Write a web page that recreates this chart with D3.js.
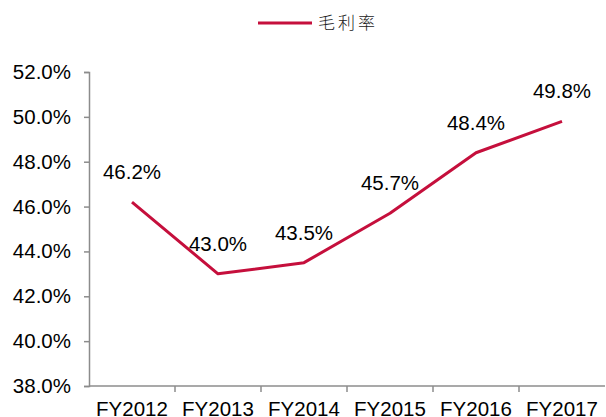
<!DOCTYPE html>
<html>
<head>
<meta charset="utf-8">
<script src="https://cdn.jsdelivr.net/npm/d3@7"></script>
<style>
  html, body { margin: 0; padding: 0; background: #fff; }
  svg { display: block; }
</style>
</head>
<body>
<svg id="chart" width="606" height="417"></svg>
<script>
// Gross margin by fiscal year
const years = ["FY2012", "FY2013", "FY2014", "FY2015", "FY2016", "FY2017"];
const margin = [46.2, 43.0, 43.5, 45.7, 48.4, 49.8];
const yTicks = [38, 40, 42, 44, 46, 48, 50, 52];
const seriesName = "毛利率";

const lineColor = "#C50F3C";
const axisColor = "#8c8c8c";
const font = "'Liberation Sans', Arial, sans-serif";
const fontSize = 20.5;

const svg = d3.select("#chart");
const plot = { left: 89, right: 605, top: 72, bottom: 386 };

const x = d3.scaleBand().domain(years).range([plot.left, plot.right]).padding(0);
const y = d3.scaleLinear().domain([38, 52]).range([plot.bottom, plot.top]);

// Y axis
const yAxis = d3.axisLeft(y).tickValues(yTicks).tickSize(5).tickPadding(13)
  .tickFormat(d => d.toFixed(1) + "%");
const gy = svg.append("g").attr("transform", `translate(${plot.left},0)`).call(yAxis);
gy.select(".domain").attr("stroke", axisColor).attr("stroke-width", 1.5);
gy.selectAll(".tick line").attr("stroke", axisColor).attr("stroke-width", 1.5);
gy.selectAll(".tick text").attr("font-family", font).attr("font-size", fontSize).attr("fill", "#000");

// X axis: category boundaries carry the tick marks
const gx = svg.append("g").attr("transform", `translate(0,${plot.bottom})`);
gx.append("line").attr("x1", plot.left).attr("x2", plot.right).attr("y1", 0).attr("y2", 0)
  .attr("stroke", axisColor).attr("stroke-width", 1.5);
gx.selectAll("line.tk").data(years.slice(1)).enter().append("line").attr("class", "tk")
  .attr("x1", d => x(d)).attr("x2", d => x(d)).attr("y1", 0).attr("y2", 6)
  .attr("stroke", axisColor).attr("stroke-width", 1.5);
gx.selectAll("text").data(years).enter().append("text")
  .attr("x", d => x(d) + x.bandwidth() / 2).attr("y", 29.5)
  .attr("text-anchor", "middle").attr("font-family", font).attr("font-size", fontSize)
  .attr("fill", "#000").text(d => d);

// Line
const line = d3.line().x((d, i) => x(years[i]) + x.bandwidth() / 2).y(d => y(d));
svg.append("path").datum(margin).attr("d", line).attr("fill", "none")
  .attr("stroke", lineColor).attr("stroke-width", 3).attr("stroke-linejoin", "round");

// Value labels
svg.selectAll("text.val").data(margin).enter().append("text").attr("class", "val")
  .attr("x", (d, i) => x(years[i]) + x.bandwidth() / 2).attr("y", d => y(d) - 23)
  .attr("text-anchor", "middle").attr("font-family", font).attr("font-size", fontSize)
  .attr("fill", "#000").text(d => d.toFixed(1) + "%");

// Legend
const lg = svg.append("g");
lg.append("line").attr("x1", 258).attr("x2", 312).attr("y1", 23).attr("y2", 23)
  .attr("stroke", lineColor).attr("stroke-width", 3);
lg.append("text").attr("x", 318).attr("y", 29).attr("font-family", "'Noto Sans CJK SC', sans-serif")
  .attr("font-size", 17).attr("font-weight", 300).attr("letter-spacing", 3).attr("fill", "#222").text(seriesName);
</script>
</body>
</html>
